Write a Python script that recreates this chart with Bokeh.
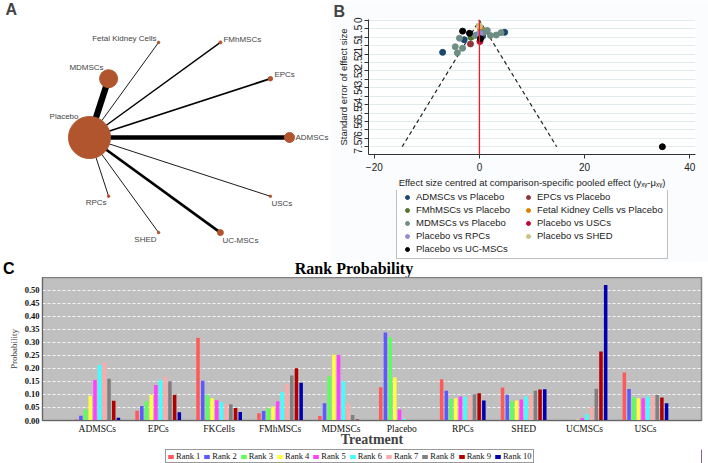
import math
from bokeh.plotting import figure
from bokeh.layouts import column, row
from bokeh.models import (ColumnDataSource, Label, Legend, LegendItem, Range1d, Div,
                          FixedTicker, Span, CustomJSTickFormatter, PrintfTickFormatter)
from bokeh.core.properties import value
from bokeh.transform import dodge
from bokeh.embed import file_html
from bokeh.resources import INLINE

SANS = "Liberation Sans"
SERIF = "Liberation Serif"

# ---------------- Panel A data: network ----------------
net_nodes = ["Placebo", "MDMSCs", "Fetal Kidney Cells", "FMhMSCs", "EPCs",
             "ADMSCs", "USCs", "UC-MSCs", "SHED", "RPCs"]
net_node_weight = [42, 18, 2.5, 3, 4.5, 10, 2.5, 6, 2.5, 2.5]
net_edge_to = ["MDMSCs", "Fetal Kidney Cells", "FMhMSCs", "EPCs", "ADMSCs",
               "USCs", "UC-MSCs", "SHED", "RPCs"]
net_edge_studies = [7, 1, 1.5, 2, 5, 1, 3, 1, 1]

# ---------------- Panel B data: comparison-adjusted funnel ----------------
fp_groups = ["ADMSCs vs Placebo", "EPCs vs Placebo", "FMhMSCs vs Placebo",
             "Fetal Kidney Cells vs Placebo", "MDMSCs vs Placebo", "Placebo vs USCs",
             "Placebo vs RPCs", "Placebo vs SHED", "Placebo vs UC-MSCs"]
fp_x_ADMSCs = [4.8, -2.9, -7.0, 0.6]
fp_se_ADMSCs = [0.71, 1.15, 1.9, 0.95]
fp_x_EPCs = [-1.7]
fp_se_EPCs = [1.4]
fp_x_FMhMSCs = [-1.6]
fp_se_FMhMSCs = [1.0]
fp_x_Fetal = [0.2]
fp_se_Fetal = [0.5]
fp_x_MDMSCs = [-3.8, -4.6, -4.2, -3.2, 1.5, 2.1, 3.2, 4.1, -0.4, 0.9, -0.8, 0.3]
fp_se_MDMSCs = [1.06, 1.57, 1.93, 1.65, 0.6, 0.9, 0.87, 0.73, 0.85, 0.7, 0.9, 0.75]
fp_x_USCs = [0.1]
fp_se_USCs = [1.25]
fp_x_RPCs = [0.1]
fp_se_RPCs = [0.8]
fp_x_SHED = [0.0]
fp_se_SHED = [0.33]
fp_x_UCMSCs = [-3.2, -1.9, 0.2, 34.8]
fp_se_UCMSCs = [0.64, 0.77, 1.09, 7.5]
fp_se_ticks = [i * 0.5 for i in range(16)]
fp_x_ticks = [-20, 0, 20, 40]
fp_se_max = 7.5

# ---------------- Panel C data: rank probabilities ----------------
treatments = ["ADMSCs", "EPCs", "FKCells", "FMhMSCs", "MDMSCs",
              "Placebo", "RPCs", "SHED", "UCMSCs", "USCs"]
rank_labels = ["Rank 1", "Rank 2", "Rank 3", "Rank 4", "Rank 5",
               "Rank 6", "Rank 7", "Rank 8", "Rank 9", "Rank 10"]
prob_ADMSCs = [0.004, 0.018, 0.042, 0.095, 0.155, 0.213, 0.222, 0.160, 0.076, 0.011]
prob_EPCs = [0.037, 0.056, 0.074, 0.099, 0.136, 0.155, 0.167, 0.150, 0.099, 0.032]
prob_FKCells = [0.317, 0.152, 0.098, 0.085, 0.078, 0.071, 0.063, 0.062, 0.048, 0.033]
prob_FMhMSCs = [0.028, 0.036, 0.046, 0.054, 0.074, 0.108, 0.141, 0.172, 0.200, 0.145]
prob_MDMSCs = [0.017, 0.066, 0.170, 0.252, 0.251, 0.150, 0.066, 0.021, 0.004, 0.000]
prob_Placebo = [0.127, 0.337, 0.320, 0.165, 0.042, 0.006, 0.001, 0.001, 0.000, 0.000]
prob_RPCs = [0.158, 0.114, 0.082, 0.085, 0.092, 0.092, 0.092, 0.101, 0.104, 0.077]
prob_SHED = [0.126, 0.099, 0.074, 0.077, 0.080, 0.092, 0.099, 0.114, 0.119, 0.120]
prob_UCMSCs = [0.000, 0.000, 0.001, 0.004, 0.010, 0.024, 0.053, 0.122, 0.264, 0.519]
prob_USCs = [0.184, 0.121, 0.089, 0.085, 0.085, 0.092, 0.095, 0.098, 0.088, 0.066]
prob_ticks = [round(i * 0.05, 2) for i in range(11)]

# ======================= sizes =======================
W = 708
HTOP = 262
WA = 330
WB = W - WA
HB_PLOT = 190
HB_LEG = HTOP - HB_PLOT
HC_TITLE = 15
HC_PLOT = 172
HC_LEG = 14


def bare(width, height, **kw):
    f = figure(width=width, height=height, min_border=0,
               x_axis_location=None, y_axis_location=None,
               output_backend="svg", toolbar_location=None,
               outline_line_color=None, **kw)
    f.grid.visible = False
    return f


# ======================= Panel A =======================
node_color = "#B0552D"
pa = bare(WA, HTOP, x_range=Range1d(-1.89, 1.41), y_range=Range1d(-1.25, 1.37),
          background_fill_color="white", border_fill_color="white")

n = len(net_nodes)
node_x = [math.cos(math.pi - i * 2 * math.pi / n) for i in range(n)]
node_y = [math.sin(math.pi - i * 2 * math.pi / n) for i in range(n)]
pos = {nm: (node_x[i], node_y[i]) for i, nm in enumerate(net_nodes)}

hub = pos["Placebo"]
edge_src = ColumnDataSource(dict(
    xs=[[hub[0], pos[t][0]] for t in net_edge_to],
    ys=[[hub[1], pos[t][1]] for t in net_edge_to],
    w=[0.9 * s for s in net_edge_studies],
))
pa.multi_line("xs", "ys", line_width="w", line_color="black", source=edge_src)

node_src = ColumnDataSource(dict(x=node_x, y=node_y, s=net_node_weight))
pa.scatter("x", "y", size="s", fill_color=node_color, line_color=node_color,
           source=node_src)

label_place = {
    "Placebo": ("right", -11, -21), "MDMSCs": ("right", -5, -11),
    "Fetal Kidney Cells": ("right", -2, -4), "FMhMSCs": ("left", 3, -3),
    "EPCs": ("left", 4, -4), "ADMSCs": ("left", 6, 0),
    "USCs": ("left", 1, 7), "UC-MSCs": ("left", 2, 8),
    "SHED": ("right", -2, 7), "RPCs": ("right", -2, 6),
}
for al in ("left", "right"):
    idx = [i for i, nm in enumerate(net_nodes) if label_place[nm][0] == al]
    src = ColumnDataSource(dict(
        x=[node_x[i] for i in idx], y=[node_y[i] for i in idx],
        t=[net_nodes[i] for i in idx],
        dx=[label_place[net_nodes[i]][1] for i in idx],
        dy=[label_place[net_nodes[i]][2] for i in idx],
    ))
    pa.text("x", "y", text="t", text_align=al, x_offset="dx", y_offset="dy",
            text_baseline="middle", text_font=value(SANS), text_font_size="8px",
            text_color="#444444", source=src)
pa.add_layout(Label(x=-1.84, y=1.37, y_offset=-17,
                    text="A", text_font=SANS, text_font_style="bold",
                    text_font_size="16px", text_baseline="bottom"))

# ======================= Panel B =======================
fp_colors = ["#1a476f", "#90353b", "#55752f", "#e37e00", "#6e8e84",
             "#c10534", "#938dd2", "#cac27e", "#000000"]
fp_xs = [fp_x_ADMSCs, fp_x_EPCs, fp_x_FMhMSCs, fp_x_Fetal, fp_x_MDMSCs,
         fp_x_USCs, fp_x_RPCs, fp_x_SHED, fp_x_UCMSCs]
fp_ses = [fp_se_ADMSCs, fp_se_EPCs, fp_se_FMhMSCs, fp_se_Fetal, fp_se_MDMSCs,
          fp_se_USCs, fp_se_RPCs, fp_se_SHED, fp_se_UCMSCs]
BBORDER = "#FBFCFD"

pb = figure(width=WB, height=HB_PLOT, x_range=Range1d(-21.1, 41.1),
            y_range=Range1d(7.96, -0.05), title="B",
            min_border_left=38, min_border_right=13,
            min_border_top=0, min_border_bottom=0,
            output_backend="svg", toolbar_location=None,
            outline_line_color=None, background_fill_color="white",
            border_fill_color=BBORDER)
pb.title.align = "left"
pb.title.offset = -35
pb.title.standoff = 0
pb.title.text_font = SANS
pb.title.text_font_size = "16px"
pb.title.text_font_style = "bold"
pb.xgrid.visible = False
pb.ygrid.grid_line_color = "#E2ECEF"
pb.yaxis.ticker = FixedTicker(ticks=fp_se_ticks)
pb.ygrid.ticker = FixedTicker(ticks=fp_se_ticks)
pb.yaxis.formatter = CustomJSTickFormatter(
    code="var s = String(tick); if (s.indexOf('0.') === 0) { s = s.slice(1); } return s;")
pb.yaxis.major_label_orientation = "vertical"
pb.xaxis.ticker = FixedTicker(ticks=fp_x_ticks)
for ax in (pb.xaxis[0], pb.yaxis[0]):
    ax.minor_tick_line_color = None
    ax.major_tick_out = 4
    ax.major_tick_in = 0
    ax.major_label_standoff = 2
    ax.axis_label_standoff = 3
    ax.major_label_text_font = SANS
    ax.major_label_text_font_size = "10px"
    ax.major_label_text_color = "#222222"
    ax.axis_label_text_font = SANS
    ax.axis_label_text_font_size = "9.5px"
    ax.axis_label_text_font_style = "normal"
    ax.axis_label_text_color = "#222222"
    ax.axis_line_color = "#333333"
    ax.major_tick_line_color = "#333333"
pb.xaxis.major_label_standoff = 4
pb.yaxis.axis_label = "Standard error of effect size"
pb.xaxis.axis_label = "Effect size centred at comparison-specific pooled effect (y\u2093\u1d67-\u03bc\u2093\u1d67)"

zq = 1.96 * fp_se_max
pb.line([-zq, 0, zq], [fp_se_max, 0, fp_se_max], line_color="#222222",
        line_dash="4 3", line_width=1.2)
pb.add_layout(Span(location=0, dimension="height", line_color="#E8202A", line_width=1.3))

for c, xs, ses in zip(fp_colors, fp_xs, fp_ses):
    pb.scatter(xs, ses, size=6, fill_color=c, line_color=c)

# legend of panel B in its own strip (legend glyph renderers lie outside the strip's range)
pbl = bare(WB, HB_LEG, x_range=Range1d(0, 1), y_range=Range1d(0, 1),
           background_fill_color=BBORDER, border_fill_color=BBORDER)
b_items = []
for g, c in zip(fp_groups, fp_colors):
    r = pbl.scatter([5], [5], size=6, fill_color=c, line_color=c)
    b_items.append(LegendItem(label=g, renderers=[r]))
leg_b = Legend(items=b_items, orientation="horizontal", ncols=2, location=(28, 3),
               label_text_font=SANS, label_text_font_size="9.5px",
               label_text_color="#222222", glyph_width=12, glyph_height=10,
               label_height=10, label_width=104, label_standoff=3, spacing=2,
               padding=4, margin=0,
               border_line_color="#808080", border_line_width=1,
               background_fill_color="white", background_fill_alpha=1.0)
pbl.add_layout(leg_b)

# ======================= Panel C =======================
rank_colors = ["#FF5A5A", "#5A5AFF", "#5AFF5A", "#FFFF40", "#FF40FF",
               "#40FFFF", "#FFAAAA", "#808080", "#B00000", "#0000B0"]
all_probs = [prob_ADMSCs, prob_EPCs, prob_FKCells, prob_FMhMSCs, prob_MDMSCs,
             prob_Placebo, prob_RPCs, prob_SHED, prob_UCMSCs, prob_USCs]

title_html = (
    '<div style="position:relative;width:%dpx;height:%dpx;">'
    '<span style="position:absolute;left:3px;top:-2px;font-family:\'%s\';'
    'font-weight:bold;font-size:16px;line-height:18px;color:#000;">C</span>'
    '<span style="position:absolute;left:0px;top:-2px;width:%dpx;text-align:center;'
    'font-family:\'%s\';font-weight:bold;font-size:16px;line-height:18px;color:#000;">'
    'Rank Probability</span></div>' % (W, HC_TITLE, SANS, W, SERIF))
pct = Div(text=title_html, width=W, height=HC_TITLE, margin=0)

pc = figure(width=W, height=HC_PLOT, x_range=Range1d(-0.9, 9.92),
            y_range=Range1d(0, 0.548),
            min_border_left=42, min_border_right=7, min_border_top=0,
            min_border_bottom=0, output_backend="svg", toolbar_location=None,
            background_fill_color="#C0C0C0", border_fill_color="white",
            outline_line_color="#808080", outline_line_width=1.5)
pc.xgrid.visible = False
pc.ygrid.ticker = FixedTicker(ticks=prob_ticks)
pc.ygrid.grid_line_color = "white"
pc.ygrid.grid_line_dash = "3 2"
pc.ygrid.grid_line_alpha = 0.85
pc.yaxis.ticker = FixedTicker(ticks=prob_ticks)
pc.yaxis.formatter = PrintfTickFormatter(format="%.2f")
pc.xaxis.ticker = FixedTicker(ticks=list(range(len(treatments))))
pc.xaxis.formatter = CustomJSTickFormatter(args=dict(names=treatments),
                                           code="return names[Math.round(tick)];")
for ax in (pc.xaxis[0], pc.yaxis[0]):
    ax.minor_tick_line_color = None
    ax.major_tick_line_color = None
    ax.major_tick_out = 0
    ax.major_tick_in = 0
    ax.major_label_standoff = 3
    ax.axis_label_standoff = 3
    ax.axis_line_color = "#666666"
    ax.major_label_text_font = SERIF
    ax.axis_label_text_font = SERIF
    ax.major_label_text_color = "#111111"
pc.yaxis.major_label_text_font_size = "8.5px"
pc.yaxis.major_label_text_font_style = "bold"
pc.yaxis.axis_label = "Probability"
pc.yaxis.axis_label_text_font_size = "9px"
pc.yaxis.axis_label_text_font_style = "normal"
pc.xaxis.major_label_text_font_size = "9.5px"
pc.xaxis.major_label_standoff = 3
pc.xaxis.axis_label = "Treatment"
pc.xaxis.axis_label_text_font_size = "14px"
pc.xaxis.axis_label_text_font_style = "bold"
pc.xaxis.axis_label_standoff = -5

xi = list(range(len(treatments)))
for r in range(10):
    src = ColumnDataSource(dict(xi=xi, top=[p[r] for p in all_probs]))
    pc.vbar(x=dodge("xi", (r - 4.5) * 0.077), top="top", width=0.058,
            bottom=0, fill_color=rank_colors[r], line_color=None, source=src)

pcl = bare(W, HC_LEG, x_range=Range1d(0, 1), y_range=Range1d(0, 1),
           background_fill_color="white", border_fill_color="white")
c_items = []
for r in range(10):
    rr = pcl.vbar(x=[5], top=[5], width=0.5, fill_color=rank_colors[r], line_color=None)
    c_items.append(LegendItem(label=rank_labels[r], renderers=[rr]))
leg_c = Legend(items=c_items, orientation="horizontal", location=(123, 0),
               label_text_font=SERIF, label_text_font_size="8.5px",
               label_text_color="#111111", glyph_width=7, glyph_height=5,
               label_height=9, label_standoff=2, spacing=3, padding=1, margin=0,
               border_line_color="#333333", background_fill_color="white")
pcl.add_layout(leg_c)

layout = column(row(pa, column(pb, pbl)), pct, pc, pcl)
open("out.html", "w").write(file_html(layout, INLINE))
